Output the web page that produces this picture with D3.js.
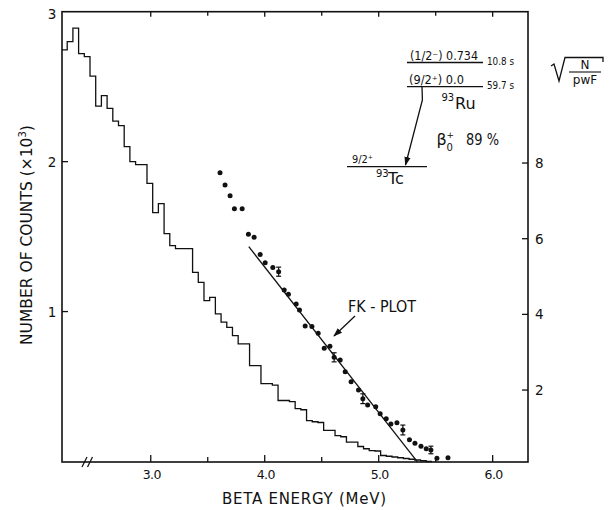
<!DOCTYPE html>
<html><head><meta charset="utf-8">
<script src="https://cdn.jsdelivr.net/npm/d3@7"></script>
<style>body{margin:0;background:#fff}svg{display:block}text{font-family:"DejaVu Sans",sans-serif;fill:#111}</style>
</head><body><svg id="c" width="613" height="510"></svg>
<script>
// ---- data ----
const binStart = 2.217, binWidth = 0.05;
const histCounts = [2.745,2.80,2.89,2.72,2.70,2.57,2.37,2.44,2.355,2.27,2.24,2.10,2.00,1.98,1.98,1.855,1.66,1.72,1.52,1.44,
  1.42,1.42,1.42,1.262,1.195,1.073,1.095,0.985,0.929,0.895,0.84,0.785,0.785,0.64,0.64,0.52,0.52,0.51,0.407,0.407,
  0.40,0.353,0.345,0.273,0.265,0.26,0.207,0.207,0.173,0.165,0.129,0.129,0.10,0.085,0.073,0.07,0.04,0.035,0.03,0.025,
  0.02,0.015,0.01,0.005,0];
const fkEnergy = [3.608,3.652,3.696,3.734,3.802,3.857,3.907,3.960,4.004,4.071,4.122,4.171,4.208,4.276,4.305,4.355,4.414,4.469,4.522,4.572,
  4.609,4.662,4.706,4.758,4.823,4.861,4.903,4.974,5.013,5.066,5.107,5.160,5.212,5.270,5.318,5.371,5.417,5.458,5.511,5.608];
const fkValue = [7.745,7.42,7.137,6.794,6.794,6.117,6.04,5.583,5.366,5.239,5.128,4.644,4.533,4.274,4.116,3.693,3.68,3.50,3.103,3.156,
  2.865,2.794,2.485,2.22,2.00,1.771,1.605,1.56,1.375,1.24,1.102,1.137,0.944,0.687,0.592,0.513,0.447,0.416,0.196,0.211];
const fkError = [0,0,0,0,0,0,0,0,0,0,0.12,0,0,0,0,0,0,0,0,0,
  0.12,0,0,0,0,0.13,0,0,0,0,0,0,0.13,0,0,0,0,0.10,0,0];
const fitEnergy = [3.86, 5.34];
const fitValue = [5.79, 0.10];
const xMajorTicks = [3, 4, 5, 6];
const xMajorLabels = ["3.0", "4.0", "5.0", "6.0"];
const xMinorTicks = [3.5, 4.5, 5.5];
const leftTicks = [1, 2];
const leftLabels = ["1", "2", "3"];
const rightTicks = [2, 4, 6, 8];

// ---- layout ----
const L = 62, R = 528, T = 11.7, B = 462;
const svg = d3.select("#c");
svg.append("rect").attr("width", 613).attr("height", 510).attr("fill", "#fff");
const x = d3.scaleLinear().domain([2.2213, 6.31]).range([L, R]);
const yL = d3.scaleLinear().domain([0, 3]).range([B - 0.5, T]);
const yR = d3.scaleLinear().domain([0.098, 12.0]).range([B, T]);

const defs = svg.append("defs");
defs.append("marker").attr("id", "ah").attr("viewBox", "0 0 10 10").attr("refX", 9).attr("refY", 5)
  .attr("markerWidth", 9).attr("markerHeight", 9).attr("markerUnits", "userSpaceOnUse").attr("orient", "auto")
  .append("path").attr("d", "M0,1.5 L10,5 L0,8.5 Z").attr("fill", "#111");

// frame
svg.append("rect").attr("x", L).attr("y", T).attr("width", R - L).attr("height", B - T)
  .attr("fill", "none").attr("stroke", "#111").attr("stroke-width", 1.6);

// ticks
const g = svg.append("g").attr("stroke", "#111").attr("stroke-width", 1.3);
xMajorTicks.forEach(v => {
  g.append("line").attr("x1", x(v)).attr("x2", x(v)).attr("y1", B).attr("y2", B - 7);
  g.append("line").attr("x1", x(v)).attr("x2", x(v)).attr("y1", T).attr("y2", T + 5);
});
xMinorTicks.forEach(v => {
  g.append("line").attr("x1", x(v)).attr("x2", x(v)).attr("y1", B).attr("y2", B - 5);
  g.append("line").attr("x1", x(v)).attr("x2", x(v)).attr("y1", T).attr("y2", T + 4);
});
leftTicks.forEach(v => g.append("line").attr("x1", L).attr("x2", L + 6).attr("y1", yL(v)).attr("y2", yL(v)));
rightTicks.forEach(v => g.append("line").attr("x1", R).attr("x2", R - 6).attr("y1", yR(v)).attr("y2", yR(v)));
// axis break
[84.5, 90].forEach(bx => g.append("line").attr("x1", bx - 2.5).attr("x2", bx + 2.5).attr("y1", B + 5).attr("y2", B - 5));

// labels
xMajorTicks.forEach((v, i) => svg.append("text").attr("x", x(v) + 1).attr("y", 478.5).attr("text-anchor", "middle")
  .attr("font-size", 12.5).attr("letter-spacing", -0.6).text(xMajorLabels[i]));
[1, 2, 3].forEach((v, i) => svg.append("text").attr("x", 52).attr("y", yL(v) + 5 + (v === 3 ? 2 : 0)).attr("text-anchor", "middle")
  .attr("font-size", 13.5).text(leftLabels[i]));
rightTicks.forEach(v => svg.append("text").attr("x", 535).attr("y", yR(v) + 5).attr("font-size", 13.5).text(v));

svg.append("text").attr("x", 222).attr("y", 504).attr("font-size", 15).attr("textLength", 164)
  .attr("lengthAdjust", "spacing").text("BETA ENERGY (MeV)");
const yl = svg.append("text").attr("transform", "translate(31.5,345) rotate(-90)").attr("font-size", 15.5);
yl.append("tspan").text("NUMBER OF COUNTS (×10");
yl.append("tspan").attr("font-size", 10).attr("dy", -6).text("3");
yl.append("tspan").attr("dy", 6).text(")");

// sqrt(N/pwF)
svg.append("path").attr("d", "M551,66 L554,64 L559,81 L565,57.5 L603,57.5 L603,62")
  .attr("fill", "none").attr("stroke", "#111").attr("stroke-width", 1.3);
svg.append("text").attr("x", 585).attr("y", 69).attr("text-anchor", "middle").attr("font-size", 12).text("N");
svg.append("line").attr("x1", 569).attr("x2", 601).attr("y1", 72).attr("y2", 72).attr("stroke", "#111").attr("stroke-width", 1.1);
svg.append("text").attr("x", 585).attr("y", 84).attr("text-anchor", "middle").attr("font-size", 12).text("pwF");

// histogram
const hist = histCounts.map((c, i) => ({ lo: Math.max(binStart + i * binWidth, 2.2213), hi: binStart + (i + 1) * binWidth, c }));
let d = "M" + x(hist[0].lo) + "," + yL(hist[0].c);
hist.forEach(b => { d += " V" + yL(b.c) + " H" + x(b.hi); });
svg.append("path").attr("d", d).attr("fill", "none").attr("stroke", "#111").attr("stroke-width", 1.3);

// FK fit line
svg.append("line").attr("x1", x(fitEnergy[0])).attr("y1", yR(fitValue[0])).attr("x2", x(fitEnergy[1])).attr("y2", yR(fitValue[1]))
  .attr("stroke", "#111").attr("stroke-width", 1.3);

// FK points
const pts = fkEnergy.map((e, i) => ({ e, v: fkValue[i], err: fkError[i] }));
svg.append("g").selectAll("circle").data(pts).join("circle")
  .attr("cx", p => x(p.e)).attr("cy", p => yR(p.v)).attr("r", 2.5).attr("fill", "#111");
const eb = svg.append("g").attr("stroke", "#111").attr("stroke-width", 1.2);
pts.filter(p => p.err > 0).forEach(p => {
  const cx = x(p.e), y1 = yR(p.v + p.err), y2 = yR(p.v - p.err);
  eb.append("line").attr("x1", cx).attr("x2", cx).attr("y1", y1).attr("y2", y2);
  eb.append("line").attr("x1", cx - 2.5).attr("x2", cx + 2.5).attr("y1", y1).attr("y2", y1);
  eb.append("line").attr("x1", cx - 2.5).attr("x2", cx + 2.5).attr("y1", y2).attr("y2", y2);
});

// FK-PLOT label + arrow
svg.append("text").attr("x", 348).attr("y", 311.5).attr("font-size", 15).attr("textLength", 68)
  .attr("lengthAdjust", "spacingAndGlyphs").text("FK - PLOT");
svg.append("line").attr("x1", 355).attr("y1", 316).attr("x2", 334).attr("y2", 336)
  .attr("stroke", "#111").attr("stroke-width", 1.3).attr("marker-end", "url(#ah)");

// decay scheme
const ds = svg.append("g").attr("stroke", "#111").attr("stroke-width", 1.3);
ds.append("line").attr("x1", 407).attr("x2", 483).attr("y1", 62.5).attr("y2", 62.5);
ds.append("line").attr("x1", 407).attr("x2", 483).attr("y1", 86.7).attr("y2", 86.7);
ds.append("line").attr("x1", 347).attr("x2", 427).attr("y1", 166.7).attr("y2", 166.7);
ds.append("path").attr("d", "M422,86.7 L422.4,100 L405.5,165").attr("fill", "none").attr("marker-end", "url(#ah)");

function txt(xp, yp, s, fs, opts = {}) {
  const t = svg.append("text").attr("x", xp).attr("y", yp).attr("font-size", fs).text(s);
  if (opts.len) t.attr("textLength", opts.len).attr("lengthAdjust", "spacingAndGlyphs");
  return t;
}
txt(410, 59.5, "(1/2⁻)  0.734", 11.5, { len: 68 });
txt(487, 65, "10.8 s", 11, { len: 27 });
txt(409, 84, "(9/2⁺)  0.0", 11.5, { len: 55 });
txt(487, 88.5, "59.7 s", 11, { len: 27 });
txt(441.5, 101, "93", 10);
txt(455, 108.5, "Ru", 16);
txt(352, 163.3, "9/2⁺", 11, { len: 21 });
txt(376, 177, "93", 10);
txt(388, 184, "Tc", 16);
txt(436.5, 145, "β", 16);
txt(446.5, 151, "0", 10);
txt(446.5, 138, "+", 9);
txt(466, 145, "89 %", 15.5, { len: 33 });
</script></body></html>
